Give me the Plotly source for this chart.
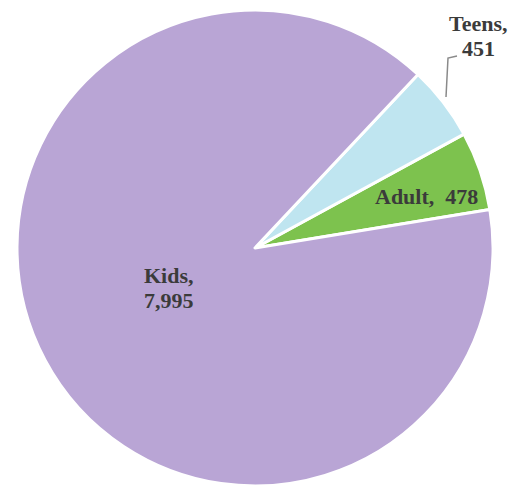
import plotly.graph_objects as go

categories = ["Adult", "Teens", "Kids"]
values = [478, 451, 7995]
colors = ["#7dc24e", "#bfe5f0", "#b9a5d5"]

# page body has an 8px margin; size the figure so it fits the 519x487 window
OFF = 8
W, H = 519 - OFF, 487 - OFF


def px(x, y):
    """reference-window pixel -> paper coords"""
    return (x - OFF) / W, 1 - (y - OFF) / H


cx, cy, r = 255, 248, 238
dx0, dy0 = px(cx - r, cy + r)
dx1, dy1 = px(cx + r, cy - r)

fig = go.Figure(go.Pie(
    labels=categories,
    values=values,
    sort=False,
    direction="counterclockwise",
    rotation=61.4,
    marker=dict(colors=colors, line=dict(color="white", width=3)),
    textinfo="none",
    hoverinfo="label+value",
    showlegend=False,
    domain=dict(x=[dx0, dx1], y=[max(dy0, 0), min(dy1, 1)]),
))

font = dict(family="Liberation Serif, Times New Roman, serif", size=22, color="#3b3b3b")
# label line positions (centre x, centre y per line) in reference pixels
label_lines = {
    "Kids": [(169, 275, "{c},"), (169, 300, "{v:,}")],
    "Teens": [(478, 24, "{c},"), (478, 49, "{v:,}")],
    "Adult": [(426, 196, "{c},\u00a0\u00a0{v:,}")],
}
for c, v in zip(categories, values):
    for x, y, tpl in label_lines[c]:
        ax, ay = px(x, y)
        fig.add_annotation(x=ax, y=ay, xref="paper", yref="paper", showarrow=False,
                           xanchor="center", yanchor="middle",
                           text="<b>" + tpl.format(c=c, v=v) + "</b>", font=font)

x0, y0 = px(446, 97); x1, y1 = px(448, 58); x2, y2 = px(457, 56)
fig.add_shape(type="path", xref="paper", yref="paper",
              path=f"M {x0},{y0} L {x1},{y1} L {x2},{y2}",
              line=dict(color="#8a8a8a", width=1.5))

fig.update_layout(width=W, height=H, margin=dict(l=0, r=0, t=0, b=0),
                  paper_bgcolor="white", plot_bgcolor="white")
fig.write_html("out.html")
